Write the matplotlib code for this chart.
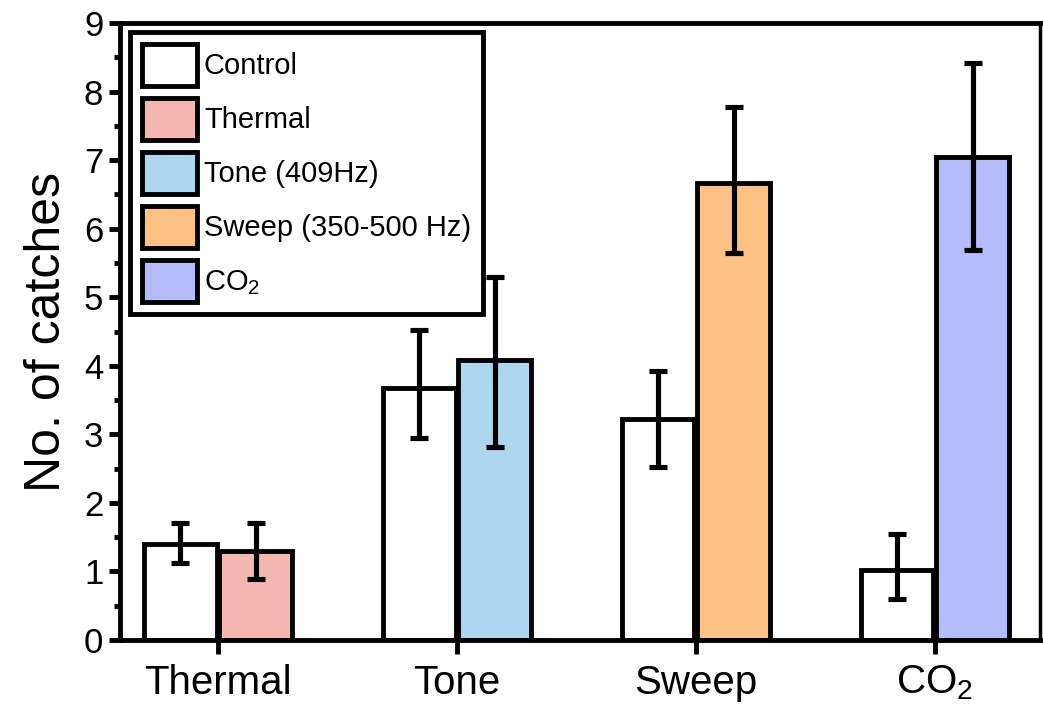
import matplotlib
matplotlib.use("Agg")
import matplotlib.pyplot as plt
import numpy as np
from matplotlib.ticker import MultipleLocator

plt.rcParams['font.family'] = ['Liberation Sans', 'DejaVu Sans']
plt.rcParams['mathtext.fontset'] = 'custom'
plt.rcParams['mathtext.rm'] = 'Liberation Sans'
plt.rcParams['mathtext.it'] = 'Liberation Sans'

groups = ['Thermal', 'Tone', 'Sweep', r'CO$_2$']
control = [1.40, 3.67, 3.23, 1.02]
control_lo = [0.27, 0.72, 0.70, 0.42]
control_hi = [0.30, 0.85, 0.70, 0.53]
treat = [1.30, 4.08, 6.67, 7.05]
treat_lo = [0.41, 1.26, 1.03, 1.36]
treat_hi = [0.40, 1.21, 1.11, 1.37]
treat_labels = ['Thermal', 'Tone (409Hz)', 'Sweep (350-500 Hz)', r'CO$_2$']
treat_colors = ['#F4B7B2', '#AED6EF', '#FFC285', '#B4BCFB']

fig = plt.figure(figsize=(10.43, 7.05), dpi=100)
ax = fig.add_axes([120/1043, 1-640/705, 920/1043, 617/705])

x = np.arange(len(groups))
w = 0.305
g = 0.006
lw = 3.5
ekw = dict(elinewidth=3.7, capsize=6.5, capthick=3.7, ecolor='black')
h_c = ax.bar(x - w/2 - g, control, w, color='white', edgecolor='black', linewidth=lw,
             yerr=[control_lo, control_hi], error_kw=ekw, zorder=2, label='Control')
handles = [h_c]
for i in range(len(groups)):
    b = ax.bar(x[i] + w/2 + g, treat[i], w, color=treat_colors[i], edgecolor='black',
               linewidth=lw, yerr=[[treat_lo[i]], [treat_hi[i]]], error_kw=ekw,
               zorder=2, label=treat_labels[i])
    handles.append(b)

ax.set_xlim(-0.41, 3.44)
ax.set_ylim(0, 9)
ax.set_xticks(x)
ax.set_xticklabels(groups, fontsize=29)
ax.yaxis.set_major_locator(MultipleLocator(1))
ax.yaxis.set_minor_locator(MultipleLocator(0.5))
ax.tick_params(axis='y', which='major', length=8, width=3.5, labelsize=25, pad=4)
ax.tick_params(axis='y', which='minor', length=4, width=3.5)
ax.tick_params(axis='x', which='major', length=10, width=3.5, pad=7)
ax.set_ylabel('No. of catches', fontsize=36, labelpad=10)

for s in ['left', 'bottom', 'top']:
    ax.spines[s].set_linewidth(3.5)
ax.spines['right'].set_linewidth(2.5)

leg = ax.legend(handles=handles, loc='upper left', fontsize=21, frameon=True,
                fancybox=False, edgecolor='black', framealpha=1,
                handlelength=1.88, handleheight=1.84,
                handletextpad=0.25, labelspacing=0.41, borderpad=0.4,
                bbox_to_anchor=(0.011, 0.985), borderaxespad=0)
leg.get_frame().set_linewidth(3.5)
for p in leg.get_patches():
    p.set_linewidth(3.5)

fig.savefig('out.png', dpi=100)
